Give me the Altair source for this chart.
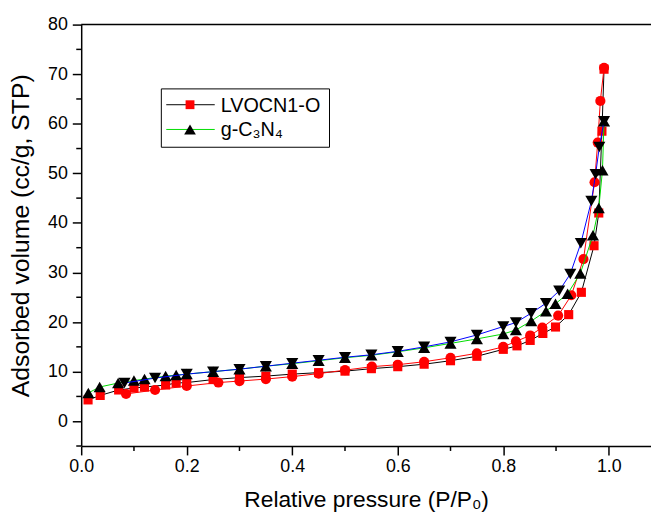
import altair as alt
import pandas as pd

# ---------------- data ----------------
lv_ads_x = [0.013, 0.036, 0.071, 0.100, 0.120, 0.160, 0.180, 0.200, 0.250, 0.300, 0.350, 0.400, 0.450,
            0.500, 0.550, 0.600, 0.650, 0.700, 0.750, 0.800, 0.826, 0.851, 0.875, 0.899, 0.924, 0.948,
            0.972, 0.981, 0.987, 0.991]
lv_ads_y = [4.3, 5.2, 6.3, 6.7, 6.9, 7.3, 7.7, 7.8, 8.4, 8.8, 9.1, 9.5, 9.8,
            10.1, 10.6, 11.0, 11.5, 12.2, 13.1, 14.5, 15.2, 16.3, 17.7, 19.0, 21.5, 26.0,
            35.4, 42.0, 58.5, 71.0]

lv_des_x = [0.991, 0.984, 0.979, 0.973, 0.952, 0.929, 0.904, 0.874, 0.851, 0.824, 0.800, 0.750, 0.700,
            0.650, 0.600, 0.551, 0.500, 0.450, 0.400, 0.350, 0.300, 0.260, 0.200, 0.140, 0.085]
lv_des_y = [71.3, 64.6, 56.2, 48.2, 32.7, 25.4, 21.3, 18.9, 17.3, 16.1, 15.0, 13.7, 12.8,
            12.0, 11.4, 11.0, 10.3, 9.6, 9.0, 8.5, 8.1, 7.8, 7.1, 6.3, 5.5]

g_ads_x = [0.0135, 0.035, 0.070, 0.100, 0.120, 0.160, 0.180, 0.200, 0.250, 0.300, 0.350, 0.400, 0.450,
           0.500, 0.550, 0.600, 0.650, 0.700, 0.750, 0.800, 0.824, 0.853, 0.881, 0.899, 0.922, 0.946,
           0.970, 0.981, 0.988, 0.991]
g_ads_y = [5.7, 6.9, 7.7, 8.2, 8.5, 9.1, 9.3, 9.5, 10.0, 10.5, 11.1, 11.6, 12.2,
           12.8, 13.3, 14.0, 14.8, 15.7, 16.6, 17.6, 18.4, 20.2, 22.2, 23.7, 25.7, 29.8,
           37.5, 43.0, 50.6, 60.5]

g_des_x = [0.991, 0.982, 0.975, 0.967, 0.947, 0.927, 0.906, 0.881, 0.853, 0.824, 0.800, 0.750, 0.700,
           0.650, 0.600, 0.550, 0.500, 0.450, 0.400, 0.350, 0.300, 0.250, 0.200, 0.140, 0.082]
g_des_y = [60.5, 55.3, 49.8, 44.4, 35.9, 29.7, 26.3, 23.8, 21.8, 19.9, 19.1, 17.4, 16.0,
           15.0, 14.1, 13.4, 12.9, 12.3, 11.7, 11.1, 10.5, 10.0, 9.5, 8.7, 7.7]

x_major = [0.0, 0.2, 0.4, 0.6, 0.8, 1.0]
x_minor = [0.1, 0.3, 0.5, 0.7, 0.9]
y_major = [0, 10, 20, 30, 40, 50, 60, 70, 80]
y_minor = [-5, 5, 15, 25, 35, 45, 55, 65, 75]
y_top = [80]

legend_labels = ["LVOCN1-O", "g-C\u2083N\u2084"]
x_title = "Relative pressure (P/P\u2080)"
y_title = "Adsorbed volume (cc/g, STP)"

# ---------------- layout ----------------
W, H = 576, 426
FONT = "Liberation Sans"

xs = alt.Scale(domain=[0, 1.08], nice=False, zero=False)
ys = alt.Scale(domain=[-5, 80], nice=False, zero=False)

x_axis = alt.Axis(values=x_major, format=".1f", tickSize=9, labelFontSize=18, labelPadding=3,
                  labelFlush=False, labelOverlap=False, title=x_title, titleFontSize=23,
                  titleY=61, titleBaseline="alphabetic")
y_axis = alt.Axis(values=y_major, format="d", tickSize=9, labelFontSize=18, labelPadding=5,
                  labelFlush=False, labelOverlap=False, title=y_title, titleFontSize=25,
                  titleX=-61, titleBaseline="middle")

X = alt.X("x:Q", scale=xs, axis=x_axis)
Y = alt.Y("y:Q", scale=ys, axis=y_axis)


def series(xv, yv, line_color, shape, pt_color, size):
    df = pd.DataFrame({"x": xv, "y": yv})
    line = alt.Chart(df).mark_line(color=line_color, strokeWidth=1).encode(x=X, y=Y)
    pts = alt.Chart(df).mark_point(shape=shape, filled=True, color=pt_color, size=size,
                                   opacity=1, strokeWidth=0).encode(x=X, y=Y)
    return [line, pts]


layers = []
layers += series(lv_ads_x, lv_ads_y, "black", "square", "#ff0000", 85)
layers += series(lv_des_x, lv_des_y, "#ff0000", "circle", "#ff0000", 105)
layers += series(g_ads_x, g_ads_y, "#00dd00", "triangle-up", "black", 150)
layers += series(g_des_x, g_des_y, "#0000ff", "triangle-down", "black", 150)

# minor ticks and top frame line
xminor = alt.Chart(pd.DataFrame({"x": x_minor})).mark_rule(color="black", strokeWidth=1.5).encode(
    x=X, y=alt.value(H), y2=alt.value(H + 5))
yminor = alt.Chart(pd.DataFrame({"y": y_minor})).mark_rule(color="black", strokeWidth=1.5).encode(
    y=Y, x=alt.value(0), x2=alt.value(-5))
top = alt.Chart(pd.DataFrame({"y": y_top})).mark_rule(color="black", strokeWidth=1.5).encode(
    y=Y, x=alt.value(0), x2=alt.value(W))

# legend
one = pd.DataFrame({"a": [0]})
box = alt.Chart(one).mark_rect(fill="white", stroke="black", strokeWidth=1).encode(
    x=alt.value(81), x2=alt.value(251), y=alt.value(65), y2=alt.value(124))
r1y, r2y = 81, 106
l1 = alt.Chart(one).mark_rule(color="black", strokeWidth=1).encode(
    x=alt.value(86), x2=alt.value(135), y=alt.value(r1y))
m1 = alt.Chart(one).mark_point(shape="square", filled=True, color="#ff0000", size=80, opacity=1).encode(
    x=alt.value(110), y=alt.value(r1y))
t1 = alt.Chart(pd.DataFrame({"t": [legend_labels[0]]})).mark_text(
    align="left", baseline="middle", font=FONT, fontSize=20, color="black").encode(
    x=alt.value(141), y=alt.value(r1y + 1), text="t:N")
l2 = alt.Chart(one).mark_rule(color="#00dd00", strokeWidth=1).encode(
    x=alt.value(86), x2=alt.value(135), y=alt.value(r2y))
m2 = alt.Chart(one).mark_point(shape="triangle-up", filled=True, color="black", size=140, opacity=1).encode(
    x=alt.value(110), y=alt.value(r2y))
t2 = alt.Chart(pd.DataFrame({"t": [legend_labels[1]]})).mark_text(
    align="left", baseline="middle", font=FONT, fontSize=20, color="black").encode(
    x=alt.value(141), y=alt.value(r2y + 1), text="t:N")

chart = alt.layer(xminor, yminor, top, *layers, box, l1, m1, t1, l2, m2, t2).properties(
    width=W, height=H,
    autosize=alt.AutoSizeParams(type="none"),
    padding={"left": 74, "top": 14, "right": 0, "bottom": 70},
).configure_view(stroke=None).configure_axis(
    domainColor="black", domainWidth=1.5, tickColor="black", tickWidth=1.5,
    labelColor="black", titleColor="black", labelFont=FONT, titleFont=FONT,
    titleFontWeight="normal", grid=False,
)

chart.save("out.html", embed_options={"renderer": "svg", "actions": False})
